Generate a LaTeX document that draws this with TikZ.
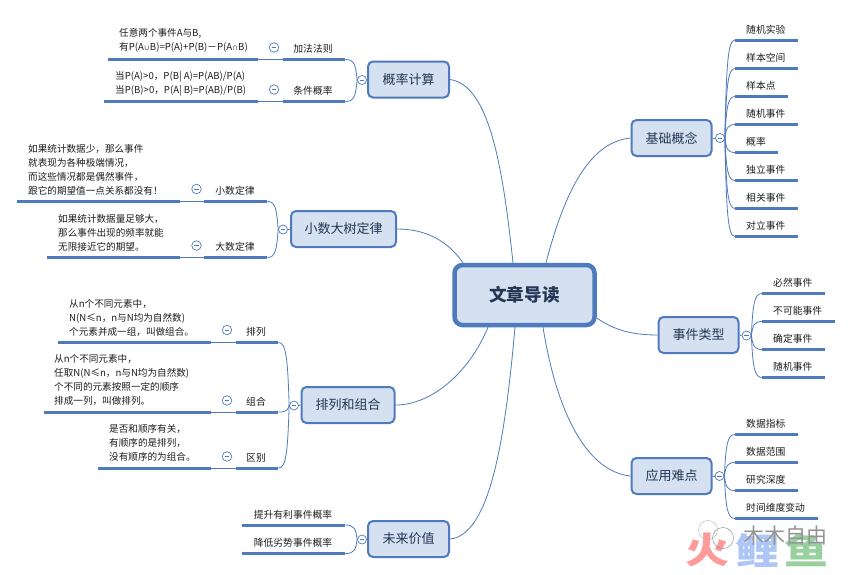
\documentclass[tikz,border=0pt]{standalone}
\usepackage{fontspec}
\setmainfont{Noto Sans CJK SC}
\usetikzlibrary{calc}
\pgfdeclarelayer{below}
\pgfsetlayers{below,main}
\definecolor{linec}{HTML}{4F7BBE}
\definecolor{fillc}{HTML}{D5E0F0}
\definecolor{inkc}{HTML}{1C1C1C}
\definecolor{topicink}{HTML}{233654}
\tikzset{
  conn/.style={draw=linec,line width=0.8pt},
  topic/.style={draw=linec,fill=fillc,line width=2pt,rounded corners=5pt,minimum height=36pt,inner sep=0pt,text=topicink,font=\fontsize{13}{16}\selectfont},
  root/.style={draw=linec,fill=fillc,line width=4.5pt,rounded corners=8pt,minimum width=140pt,minimum height=60pt,inner sep=0pt,text=topicink,font=\fontsize{17.6}{20}\bfseries\selectfont},
  fold/.style={circle,draw=linec,fill=white,line width=0.7pt,minimum size=9pt,inner sep=0pt,
    path picture={\draw[linec,line width=0.6pt] ([xshift=-2.4pt]path picture bounding box.center) -- ([xshift=2.4pt]path picture bounding box.center);}},
  leaf/.style={inner sep=0pt,text=inkc,font=\fontsize{9.8}{14}\selectfont},
  note/.style={inner sep=0pt,text=inkc,anchor=west,align=left,font=\fontsize{9.6}{14}\selectfont},
  barbox/.style={fill=linec,inner sep=0pt,minimum height=3pt,anchor=west},
  wmark/.style={inner sep=0pt,transform shape,yscale=0.82,font=\fontsize{44}{44}\bfseries\selectfont},
}
\newcommand{\myrule}[4]{\node[barbox,minimum width={#3pt-#2pt}] (#1) at (#2,#4) {};}
\newcommand{\rbranch}[2]{\draw[conn] let \p1=(#1.east),\p2=(#2.west) in (\p1) .. controls ({\x1+1.5pt},{0.25*\y1+0.75*\y2}) and ({\x1+3pt},\y2) .. (\p2);}
\newcommand{\lbranch}[2]{\draw[conn] let \p1=(#1.west),\p2=(#2.east) in (\p1) .. controls ({\x1-1.5pt},{0.25*\y1+0.75*\y2}) and ({\x1-3pt},\y2) .. (\p2);}
\newcommand{\smallop}[1]{{\fontsize{6}{14}\selectfont #1}}
\begin{document}
\begin{tikzpicture}[x=1pt,y=-1pt]
\useasboundingbox (0,0) rectangle (853,574);
\begin{pgfonlayer}{below}
\fill[white] (0,0) rectangle (853,574);
\end{pgfonlayer}

% watermark
\node[wmark,text={rgb,255:red,255;green,154;blue,154}] (wm1) at (707,550) {火};
\node[wmark,text={rgb,255:red,172;green,198;blue,245}] (wm2) at (757,550) {鲤};
\node[wmark,text={rgb,255:red,152;green,208;blue,160}] (wm3) at (806,550) {鱼};
\node[inner sep=0pt,text=black!42,font=\fontsize{21}{21}\selectfont] (wm4) at (785,535) {木木自由};
\node[circle,draw=black!50,line width=0.4pt,minimum size=21pt,inner sep=0pt] (wm5) at (723,538) {};
\node[circle,draw=black!30,line width=0.4pt,minimum size=19pt,inner sep=0pt] (wm6) at (708,530) {};

% root and topics
\node[root] (center) at (524.5,295) {文章导读};
\node[topic,minimum width=81pt] (prob) at (408.5,79.5) {概率计算};
\node[topic,minimum width=105pt] (law) at (343.5,229) {小数大树定律};
\node[topic,minimum width=93pt] (perm) at (348,405) {排列和组合};
\node[topic,minimum width=81pt] (future) at (408.5,539) {未来价值};
\node[topic,minimum width=80pt] (basic) at (671.5,138) {基础概念};
\node[topic,minimum width=80pt] (etype) at (698.5,335) {事件类型};
\node[topic,minimum width=80pt] (hard) at (671.5,476) {应用难点};

% root connectors
\begin{pgfonlayer}{below}
\draw[conn] (prob.east) .. controls (490,85) and (503,170) .. ([xshift=-11.5pt]center.north);
\draw[conn] (basic.west) .. controls (590,142) and (565,190) .. ([xshift=21.5pt]center.north);
\draw[conn] (law.east) .. controls (425,229) and (447,240) .. ([xshift=-61.5pt]center.north);
\draw[conn] (perm.east) .. controls (430,405) and (468,375) .. ([xshift=-36.5pt]center.south);
\draw[conn] (future.east) .. controls (490,535) and (505,440) .. ([xshift=-9.5pt]center.south);
\draw[conn] (hard.west) .. controls (590,472) and (558,420) .. ([xshift=18.5pt]center.south);
\draw[conn] (etype.west) .. controls (635,335) and (615,331) .. ([yshift=-23pt]center.east);
\end{pgfonlayer}

% ---- 概率计算
\node[fold] (fprob) at (362,80) {};
\draw[conn] (prob.west) -- (fprob.east);
\myrule{p1a}{283}{345}{59.5}\myrule{p1b}{108}{258}{59.5}
\myrule{p2a}{283}{345}{101.5}\myrule{p2b}{104}{258}{101.5}
\lbranch{fprob}{p1a}\lbranch{fprob}{p2a}
\draw[conn] (p1a.west) -- (p1b.east);
\draw[conn] (p2a.west) -- (p2b.east);
\node[leaf] (p1t) at (313,48.5) {加法法则};
\node[leaf] (p2t) at (313,90.5) {条件概率};
\node[fold,minimum size=9.5pt] (p1f) at (274,47.5) {};
\node[fold,minimum size=9.5pt] (p2f) at (274,89.5) {};
\node[note] (p1n) at (119,40.5) {任意两个事件A与B,\\有P(A\smallop{∪}B)=P(A)+P(B)－P(A\smallop{∩}B)};
\node[note] (p2n) at (115,83.5) {当P(A)>0，P(B| A)=P(AB)/P(A)\\当P(B)>0，P(A| B)=P(AB)/P(B)};

% ---- 小数大树定律
\node[fold] (flaw) at (283,229.5) {};
\draw[conn] (law.west) -- (flaw.east);
\myrule{l1a}{204}{267}{201.5}\myrule{l1b}{17}{180}{201.5}
\myrule{l2a}{204}{267}{257.5}\myrule{l2b}{47}{180}{257.5}
\lbranch{flaw}{l1a}\lbranch{flaw}{l2a}
\draw[conn] (l1a.west) -- (l1b.east);
\draw[conn] (l2a.west) -- (l2b.east);
\node[leaf] (l1t) at (235,190.5) {小数定律};
\node[leaf] (l2t) at (235,246.5) {大数定律};
\node[fold,minimum size=9.5pt] (l1f) at (196.5,189) {};
\node[fold,minimum size=9.5pt] (l2f) at (196.5,245.5) {};
\node[note] (l1n) at (28,170) {如果统计数据少，那么事件\\就表现为各种极端情况，\\而这些情况都是偶然事件，\\跟它的期望值一点关系都没有！};
\node[note] (l2n) at (58,232.5) {如果统计数据量足够大，\\那么事件出现的频率就能\\无限接近它的期望。};

% ---- 排列和组合
\node[fold] (fperm) at (294,405.5) {};
\draw[conn] (perm.west) -- (fperm.east);
\myrule{c1a}{236}{278}{342.5}\myrule{c1b}{58}{211}{342.5}
\myrule{c2a}{236}{278}{412}\myrule{c2b}{44}{211}{412}
\myrule{c3a}{236}{278}{468}\myrule{c3b}{98}{211}{468}
\lbranch{fperm}{c1a}\lbranch{fperm}{c2a}\lbranch{fperm}{c3a}
\draw[conn] (c1a.west) -- (c1b.east);
\draw[conn] (c2a.west) -- (c2b.east);
\draw[conn] (c3a.west) -- (c3b.east);
\node[leaf] (c1t) at (256,331.5) {排列};
\node[leaf] (c2t) at (256,401.5) {组合};
\node[leaf] (c3t) at (256,458) {区别};
\node[fold,minimum size=9.5pt] (c1f) at (227,330) {};
\node[fold,minimum size=9.5pt] (c2f) at (227,400.5) {};
\node[fold,minimum size=9.5pt] (c3f) at (227,456.5) {};
\node[note] (c1n) at (69,318) {从n个不同元素中，\\N(N≤n，n与N均为自然数)\\个元素并成一组，叫做组合。};
\node[note] (c2n) at (54,380) {从n个不同元素中，\\任取N(N≤n，n与N均为自然数)\\个不同的元素按照一定的顺序\\排成一列，叫做排列。};
\node[note] (c3n) at (109,443) {是否和顺序有关，\\有顺序的是排列，\\没有顺序的为组合。};

% ---- 未来价值
\node[fold] (ffut) at (362,539.5) {};
\draw[conn] (future.west) -- (ffut.east);
\myrule{v1}{242}{345}{525}\myrule{v2}{242}{345}{553.5}
\lbranch{ffut}{v1}\lbranch{ffut}{v2}
\node[leaf] (v1t) at (293,514.5) {提升有利事件概率};
\node[leaf] (v2t) at (293,542.5) {降低劣势事件概率};

% ---- 基础概念
\node[fold] (fbas) at (720,138) {};
\draw[conn] (basic.east) -- (fbas.west);
\myrule{b1}{735}{798}{40}\myrule{b2}{735}{798}{68.5}\myrule{b3}{735}{788}{96.5}\myrule{b4}{735}{798}{124.5}
\myrule{b5}{735}{778}{152.5}\myrule{b6}{735}{798}{180.5}\myrule{b7}{735}{798}{208.5}\myrule{b8}{735}{798}{236.5}
\rbranch{fbas}{b1}\rbranch{fbas}{b2}\rbranch{fbas}{b3}\rbranch{fbas}{b4}
\rbranch{fbas}{b5}\rbranch{fbas}{b6}\rbranch{fbas}{b7}\rbranch{fbas}{b8}
\node[leaf,anchor=west] (b1t) at (746,29.5) {随机实验};
\node[leaf,anchor=west] (b2t) at (746,57.5) {样本空间};
\node[leaf,anchor=west] (b3t) at (746,85.5) {样本点};
\node[leaf,anchor=west] (b4t) at (746,113.5) {随机事件};
\node[leaf,anchor=west] (b5t) at (746,141.5) {概率};
\node[leaf,anchor=west] (b6t) at (746,169.5) {独立事件};
\node[leaf,anchor=west] (b7t) at (746,197.5) {相关事件};
\node[leaf,anchor=west] (b8t) at (746,225.5) {对立事件};

% ---- 事件类型
\node[fold] (fevt) at (746.5,335.5) {};
\draw[conn] (etype.east) -- (fevt.west);
\myrule{e1}{762}{825}{293.5}\myrule{e2}{762}{835}{321.5}\myrule{e3}{762}{825}{349.5}\myrule{e4}{762}{825}{377.5}
\rbranch{fevt}{e1}\rbranch{fevt}{e2}\rbranch{fevt}{e3}\rbranch{fevt}{e4}
\node[leaf,anchor=west] (e1t) at (773,282.5) {必然事件};
\node[leaf,anchor=west] (e2t) at (773,310.5) {不可能事件};
\node[leaf,anchor=west] (e3t) at (773,338.5) {确定事件};
\node[leaf,anchor=west] (e4t) at (773,366.5) {随机事件};

% ---- 应用难点
\node[fold] (fhard) at (719.5,476) {};
\draw[conn] (hard.east) -- (fhard.west);
\myrule{h1}{735}{798}{434.5}\myrule{h2}{735}{798}{462.5}\myrule{h3}{735}{798}{490.5}\myrule{h4}{735}{818}{518.5}
\rbranch{fhard}{h1}\rbranch{fhard}{h2}\rbranch{fhard}{h3}\rbranch{fhard}{h4}
\node[leaf,anchor=west] (h1t) at (746,423.5) {数据指标};
\node[leaf,anchor=west] (h2t) at (746,451.5) {数据范围};
\node[leaf,anchor=west] (h3t) at (746,479.5) {研究深度};
\node[leaf,anchor=west] (h4t) at (746,507.5) {时间维度变动};
\end{tikzpicture}
\end{document}
